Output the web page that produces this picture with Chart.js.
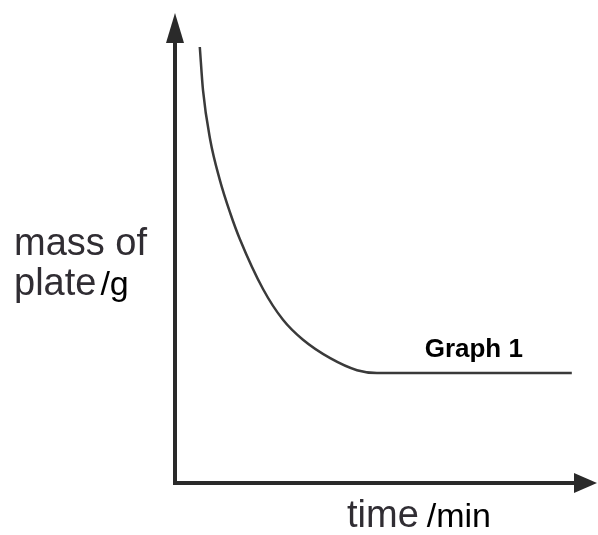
<!DOCTYPE html>
<html>
<head>
<meta charset="utf-8">
<title>Graph 1</title>
<script src="https://cdn.jsdelivr.net/npm/chart.js@4.4.1/dist/chart.umd.min.js"></script>
<style>
  html, body { margin: 0; padding: 0; background: #fff; }
  #wrap { width: 598px; height: 535px; }
</style>
</head>
<body>
<div id="wrap"><canvas id="myChart" width="598" height="535"></canvas></div>
<script>
// time (min) and mass of plate (g)
const times  = [0.62, 0.7, 0.88, 1.12, 1.38, 1.62, 2.2, 2.7, 3.2, 3.88, 4.55, 5.05, 9.92];
const masses = [10.9, 9.82, 8.58, 7.58, 6.75, 6.1, 4.85, 4.08, 3.58, 3.12, 2.82, 2.75, 2.75];

const curveLabel = 'Graph 1';
const labelAt = {x: 7.47, y: 3.15};

const xMax = 10.5;
const yMax = 11.75;

const points = times.map((t, i) => ({x: t, y: masses[i]}));

// axes with arrow heads + the text around them
const axesPlugin = {
  id: 'arrowAxes',
  beforeDatasetsDraw(chart) {
    const {ctx, chartArea: a} = chart;
    const x0 = chart.scales.x.getPixelForValue(0);
    const y0 = chart.scales.y.getPixelForValue(0);
    ctx.save();
    ctx.strokeStyle = '#2a2a2a';
    ctx.fillStyle = '#2a2a2a';
    ctx.lineWidth = 4;
    ctx.lineCap = 'butt';
    ctx.beginPath();
    ctx.moveTo(x0, y0 + 2);
    ctx.lineTo(x0, a.top + 25);
    ctx.moveTo(x0 - 2, y0);
    ctx.lineTo(a.right - 20, y0);
    ctx.stroke();
    // up arrow
    ctx.beginPath();
    ctx.moveTo(x0, a.top);
    ctx.lineTo(x0 + 9, a.top + 30);
    ctx.lineTo(x0 - 9, a.top + 30);
    ctx.closePath();
    ctx.fill();
    // right arrow
    ctx.beginPath();
    ctx.moveTo(a.right + 2, y0);
    ctx.lineTo(a.right - 21, y0 - 10);
    ctx.lineTo(a.right - 21, y0 + 10);
    ctx.closePath();
    ctx.fill();
    ctx.restore();
  },
  afterDraw(chart) {
    const {ctx} = chart;
    const sx = chart.scales.x, sy = chart.scales.y;
    ctx.save();
    ctx.textBaseline = 'alphabetic';
    ctx.textAlign = 'left';

    // y axis title
    ctx.font = '38px "Liberation Sans", Arial, sans-serif';
    ctx.fillStyle = '#302d33';
    ctx.fillText('mass of', 14, 255);
    ctx.fillText('plate', 14, 295);
    let w = ctx.measureText('plate').width;
    ctx.font = '34px "Liberation Sans", Arial, sans-serif';
    ctx.fillStyle = '#000';
    ctx.fillText('/g', 14 + w + 4, 295);

    // x axis title
    ctx.font = '38px "Liberation Sans", Arial, sans-serif';
    ctx.fillStyle = '#302d33';
    ctx.fillText('time', 347, 527);
    w = ctx.measureText('time').width;
    ctx.font = '34px "Liberation Sans", Arial, sans-serif';
    ctx.fillStyle = '#000';
    ctx.fillText('/min', 347 + w + 8, 527);

    // curve label
    ctx.font = 'bold 26px "Liberation Sans", Arial, sans-serif';
    ctx.textAlign = 'center';
    ctx.fillText(curveLabel, sx.getPixelForValue(labelAt.x), sy.getPixelForValue(labelAt.y));
    ctx.restore();
  }
};

const config = {
  type: 'line',
  data: {
    datasets: [{
      data: points,
      borderColor: '#3a3a3a',
      borderWidth: 2.5,
      pointRadius: 0,
      fill: false,
      cubicInterpolationMode: 'monotone'
    }]
  },
  options: {
    responsive: false,
    animation: false,
    events: [],
    layout: {
      padding: {left: 175, right: 3, top: 13, bottom: 52}
    },
    plugins: {
      legend: false,
      tooltip: {enabled: false}
    },
    scales: {
      x: {type: 'linear', min: 0, max: xMax, display: false},
      y: {min: 0, max: yMax, display: false}
    }
  },
  plugins: [axesPlugin]
};

const myChart = new Chart(document.getElementById('myChart'), config);
</script>
</body>
</html>
